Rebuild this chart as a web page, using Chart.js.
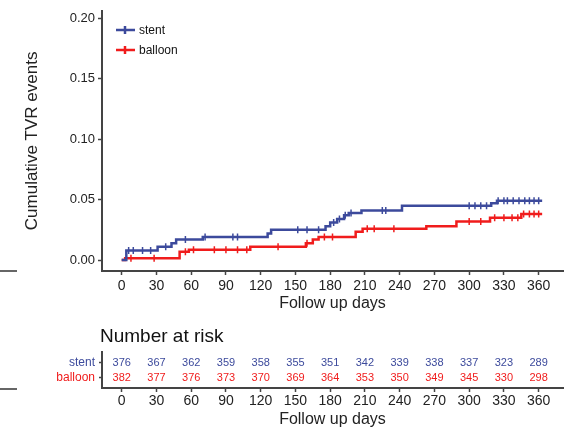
<!DOCTYPE html>
<html>
<head>
<meta charset="utf-8">
<script src="https://cdn.jsdelivr.net/npm/chart.js@4/dist/chart.umd.min.js"></script>
<style>
  body { margin: 0; background: #fff; }
  #wrap { position: relative; width: 571px; height: 429px; overflow: hidden; }
  #kmChart { position: absolute; left: 0; top: 0; }
  #riskChart { position: absolute; left: 0; top: 315px; }
</style>
</head>
<body>
<div id="wrap">
  <canvas id="kmChart" width="571" height="315"></canvas>
  <canvas id="riskChart" width="571" height="114"></canvas>
</div>
<script>
// step curves: day of each event and cumulative value after it
const stentDays   = [0, 4, 31, 43, 47, 70, 126, 129, 176, 180, 186, 192, 196, 207, 242, 319, 324, 363];
const stentValues = [0, 0.008, 0.011, 0.014, 0.017, 0.019, 0.022, 0.025, 0.028, 0.031, 0.034, 0.037, 0.039, 0.041, 0.045, 0.047, 0.049, 0.049];
const balloonDays   = [0, 3, 50, 58, 111, 159, 165, 170, 202, 208, 263, 289, 318, 345, 363];
const balloonValues = [0, 0.0015, 0.007, 0.0085, 0.011, 0.014, 0.017, 0.019, 0.0235, 0.026, 0.028, 0.032, 0.035, 0.038, 0.038];

// censoring times (tick marks on the curves)
const stentCensor   = [6, 10, 18, 25, 38, 55, 72, 96, 100, 152, 160, 170, 183, 188, 193, 198, 225, 228, 300, 305, 310, 315, 325, 330, 333, 338, 343, 348, 352, 356, 360];
const balloonCensor = [8, 28, 55, 62, 80, 90, 100, 108, 135, 160, 175, 182, 212, 218, 235, 300, 310, 322, 330, 337, 342, 347, 352, 356, 360];

// number at risk table
const riskDays    = [0, 30, 60, 90, 120, 150, 180, 210, 240, 270, 300, 330, 360];
const stentRisk   = [376, 367, 362, 359, 358, 355, 351, 342, 339, 338, 337, 323, 289];
const balloonRisk = [382, 377, 376, 373, 370, 369, 364, 353, 350, 349, 345, 330, 298];

const yTicks = [0, 0.05, 0.10, 0.15, 0.20];

const BLUE = '#3c4a9c';
const RED = '#f01c1c';
const AXIS = '#444';
const FONT = "'Liberation Sans', Arial, sans-serif";

function stepPoints(days, values) {
    return days.map((d, i) => ({ x: d, y: values[i] }));
}

// value of the step curve at a given day
function valueAt(days, values, t) {
    let v = values[0];
    for (let i = 0; i < days.length; i++) {
        if (days[i] <= t) v = values[i];
    }
    return v;
}

function censorPoints(times, days, values) {
    return times.map(t => ({ x: t, y: valueAt(days, values, t) }));
}

const dayTicks = riskDays.map(d => ({ value: d }));

function xAxisOptions(height, tickPad, titlePad) {
    return {
        type: 'linear',
        min: -17,
        max: 381,
        afterBuildTicks: scale => { scale.ticks = dayTicks.slice(); },
        afterFit: scale => { scale.height = height; },
        border: { color: AXIS, width: 2 },
        grid: { drawOnChartArea: false, tickLength: 4, tickColor: AXIS, tickWidth: 1.5 },
        ticks: { color: '#222', font: { family: FONT, size: 14 }, padding: tickPad, maxRotation: 0 },
        title: { display: true, text: 'Follow up days', color: '#222', font: { family: FONT, size: 16 }, padding: { top: 0, bottom: titlePad } }
    };
}

const legendPlugin = {
    id: 'kmLegend',
    afterDraw(chart) {
        const ctx = chart.ctx;
        const items = [['stent', BLUE, 30], ['balloon', RED, 50]];
        ctx.save();
        items.forEach(([label, color, y]) => {
            ctx.strokeStyle = color;
            ctx.lineWidth = 2.5;
            ctx.beginPath();
            ctx.moveTo(116, y);
            ctx.lineTo(135, y);
            ctx.moveTo(125, y - 4);
            ctx.lineTo(125, y + 4);
            ctx.stroke();
            ctx.fillStyle = '#111';
            ctx.font = '12px ' + FONT;
            ctx.textBaseline = 'middle';
            ctx.fillText(label, 139, y + 1);
        });
        // little crop artefact at the left edge
        ctx.strokeStyle = '#333';
        ctx.lineWidth = 1.5;
        ctx.beginPath();
        ctx.moveTo(0, 271);
        ctx.lineTo(17, 271);
        ctx.stroke();
        ctx.restore();
    }
};

new Chart(document.getElementById('kmChart'), {
    type: 'scatter',
    data: {
        datasets: [
            {
                label: 'stent',
                data: stepPoints(stentDays, stentValues),
                showLine: true,
                stepped: true,
                borderColor: BLUE,
                borderWidth: 2.5,
                pointRadius: 0
            },
            {
                label: 'balloon',
                data: stepPoints(balloonDays, balloonValues),
                showLine: true,
                stepped: true,
                borderColor: RED,
                borderWidth: 2.5,
                pointRadius: 0
            },
            {
                label: 'stent censor',
                data: censorPoints(stentCensor, stentDays, stentValues),
                pointStyle: 'line',
                rotation: 90,
                pointRadius: 3.5,
                borderColor: BLUE,
                borderWidth: 1.5
            },
            {
                label: 'balloon censor',
                data: censorPoints(balloonCensor, balloonDays, balloonValues),
                pointStyle: 'line',
                rotation: 90,
                pointRadius: 3.5,
                borderColor: RED,
                borderWidth: 1.5
            }
        ]
    },
    options: {
        responsive: false,
        animation: false,
        layout: { padding: { top: 10, right: 8, left: 0, bottom: 0 } },
        plugins: { legend: { display: false }, tooltip: { enabled: false } },
        scales: {
            x: xAxisOptions(44, 3, 2),
            y: {
                type: 'linear',
                min: -0.009,
                max: 0.206,
                afterBuildTicks: scale => { scale.ticks = yTicks.map(v => ({ value: v })); },
                afterFit: scale => { scale.width = 102; },
                border: { color: AXIS, width: 2 },
                grid: { drawOnChartArea: false, tickLength: 4, tickColor: AXIS, tickWidth: 1.5 },
                ticks: {
                    color: '#222',
                    font: { family: FONT, size: 13 },
                    padding: 3,
                    callback: v => v.toFixed(2)
                },
                title: {
                    display: true,
                    text: 'Cumulative TVR events',
                    color: '#222',
                    font: { family: FONT, size: 17 },
                    padding: { top: 22, bottom: 0 }
                }
            }
        }
    },
    plugins: [legendPlugin]
});

// risk table: one point per count, label drawn at the point's pixel
const riskPlugin = {
    id: 'riskNumbers',
    afterDatasetsDraw(chart) {
        const ctx = chart.ctx;
        ctx.save();
        ctx.font = '11px ' + FONT;
        ctx.textAlign = 'center';
        ctx.textBaseline = 'middle';
        chart.data.datasets.forEach((ds, di) => {
            const meta = chart.getDatasetMeta(di);
            ctx.fillStyle = ds.textColor;
            meta.data.forEach((pt, i) => {
                ctx.fillText(String(ds.counts[i]), pt.x, pt.y);
            });
        });
        ctx.fillStyle = '#111';
        ctx.font = '19px ' + FONT;
        ctx.textAlign = 'left';
        ctx.fillText('Number at risk', 100, 22);
        ctx.strokeStyle = '#333';
        ctx.lineWidth = 1.5;
        ctx.beginPath();
        ctx.moveTo(0, 74);
        ctx.lineTo(17, 74);
        ctx.stroke();
        ctx.restore();
    }
};

new Chart(document.getElementById('riskChart'), {
    type: 'scatter',
    data: {
        datasets: [
            {
                label: 'stent',
                data: riskDays.map(d => ({ x: d, y: 1 })),
                counts: stentRisk,
                textColor: BLUE,
                pointRadius: 0
            },
            {
                label: 'balloon',
                data: riskDays.map(d => ({ x: d, y: 0 })),
                counts: balloonRisk,
                textColor: RED,
                pointRadius: 0
            }
        ]
    },
    options: {
        responsive: false,
        animation: false,
        layout: { padding: { top: 37, right: 8, left: 0, bottom: 0 } },
        plugins: { legend: { display: false }, tooltip: { enabled: false } },
        scales: {
            x: xAxisOptions(41, 1, 0),
            y: {
                type: 'linear',
                min: -0.667,
                max: 1.73,
                afterBuildTicks: scale => { scale.ticks = [{ value: 0 }, { value: 1 }]; },
                afterFit: scale => { scale.width = 102; },
                border: { color: AXIS, width: 2 },
                grid: { drawOnChartArea: false, tickLength: 3, tickColor: AXIS, tickWidth: 1.5 },
                ticks: {
                    font: { family: FONT, size: 12 },
                    padding: 4,
                    color: ctx => ctx.tick.value === 1 ? BLUE : RED,
                    callback: v => v === 1 ? 'stent' : 'balloon'
                }
            }
        }
    },
    plugins: [riskPlugin]
});
</script>
</body>
</html>
